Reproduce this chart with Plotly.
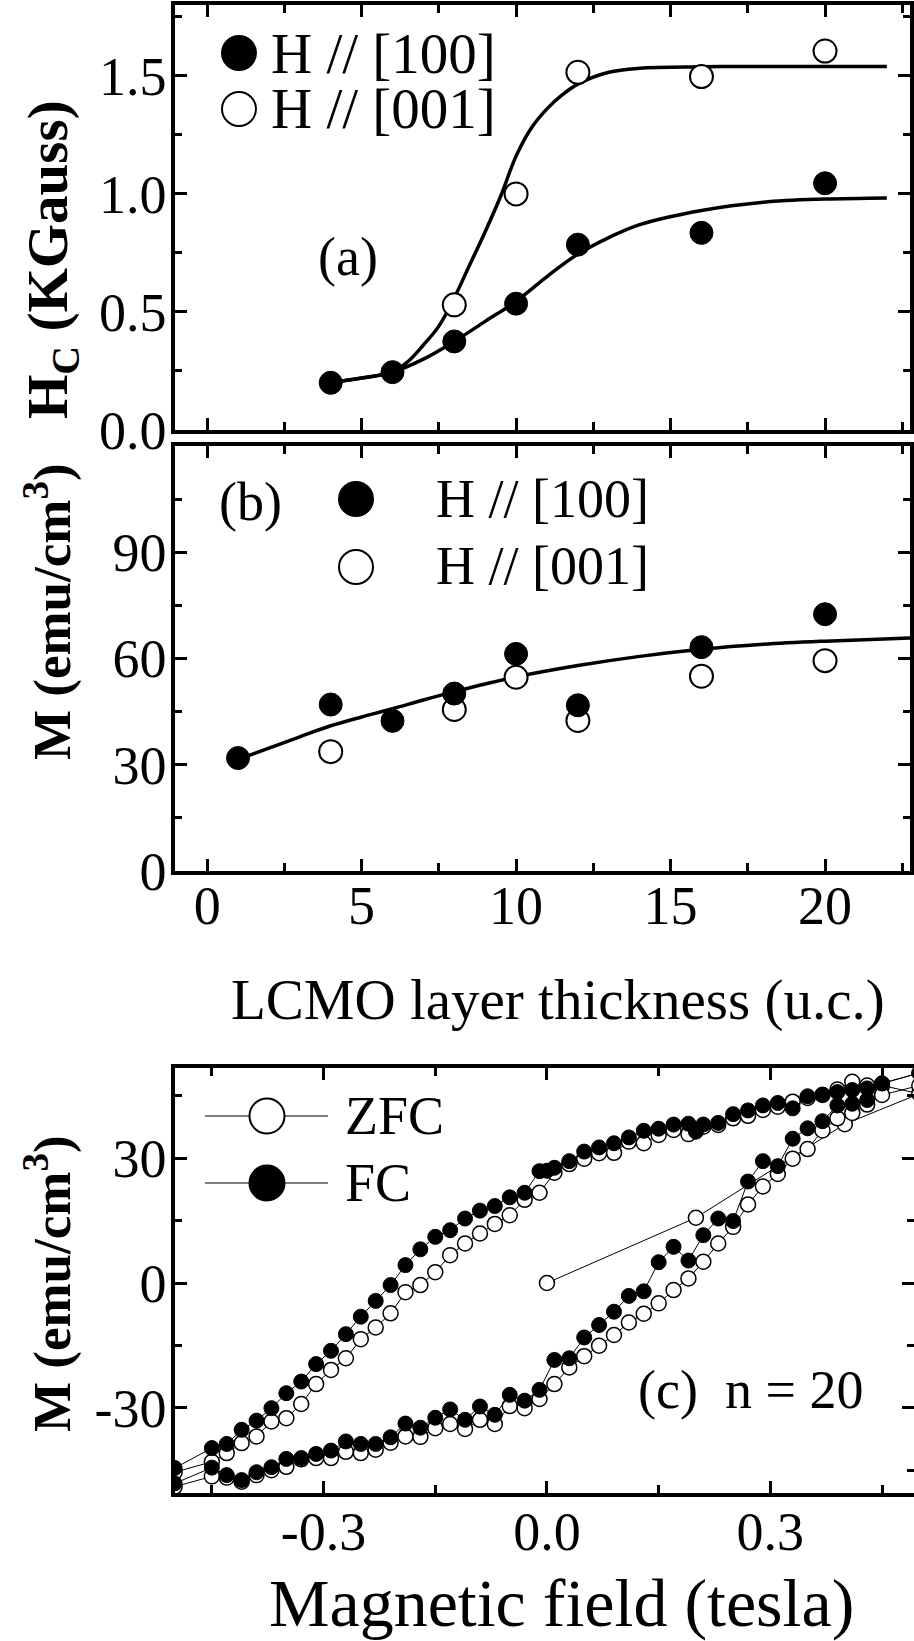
import plotly.graph_objects as go

# ---------------- Panel (a): coercive field vs LCMO thickness ----------------
a_thick_100 = [4, 6, 8, 10, 12, 16, 20]
a_hc_100 = [0.20, 0.245, 0.375, 0.535, 0.785, 0.835, 1.045]
a_thick_001 = [8, 10, 12, 16, 20]
a_hc_001 = [0.53, 1.0, 1.515, 1.497, 1.605]

a_fit100_x = [4, 5, 6, 7, 8, 9, 10, 11, 12, 13, 14, 16, 18, 20, 22]
a_fit100_y = [0.20, 0.22, 0.245, 0.30, 0.375, 0.46, 0.545, 0.65, 0.745, 0.815, 0.87, 0.93, 0.965, 0.978, 0.983]
a_fit001_x = [4, 5, 6, 6.5, 7, 7.5, 8, 8.5, 9, 9.5, 10, 10.5, 11, 11.5, 12, 13, 14, 16, 18, 22]
a_fit001_y = [0.20, 0.22, 0.245, 0.29, 0.36, 0.44, 0.56, 0.70, 0.84, 0.99, 1.16, 1.28, 1.36, 1.42, 1.465, 1.515, 1.532, 1.538, 1.54, 1.54]

# ---------------- Panel (b): magnetization vs LCMO thickness ----------------
b_thick_100 = [1, 4, 6, 8, 10, 12, 16, 20]
b_m_100 = [31.9, 47.0, 42.4, 50.1, 61.3, 46.8, 63.2, 72.5]
b_thick_001 = [4, 8, 10, 12, 16, 20]
b_m_001 = [33.7, 45.6, 54.7, 42.5, 55.0, 59.4]

b_fit_x = [0.7, 1, 2, 3, 4, 5, 6, 7, 8, 9, 10, 12, 14, 16, 18, 20, 23]
b_fit_y = [30.5, 31.5, 34.7, 37.9, 41.0, 43.5, 45.8, 48.3, 50.6, 52.8, 54.8, 58.0, 60.6, 62.6, 64.0, 64.9, 65.9]

# ---------------- Panel (c): hysteresis loops, n = 20 ----------------
fc_field_desc = [0.50, 0.45, 0.43, 0.41, 0.39, 0.37, 0.35, 0.33, 0.31, 0.29, 0.27, 0.25, 0.23, 0.21, 0.20,
                 0.19, 0.17, 0.15, 0.13, 0.11, 0.09, 0.07, 0.05, 0.03, 0.01, 0.00, -0.01, -0.03, -0.05,
                 -0.07, -0.09, -0.11, -0.13, -0.15, -0.17, -0.19, -0.21, -0.23, -0.25, -0.27, -0.29,
                 -0.31, -0.33, -0.35, -0.37, -0.39, -0.41, -0.43, -0.45, -0.50]
fc_m_desc = [50.5, 48.0, 46.8, 46.4, 45.9, 45.3, 44.9, 42.0, 43.3, 42.7, 41.5, 40.6, 38.5, 38.1, 36.4,
             38.3, 38.1, 37.1, 36.6, 35.0, 33.6, 32.6, 31.6, 29.3, 27.7, 27.0, 26.9, 21.7, 20.6,
             18.5, 17.4, 15.5, 12.7, 11.1, 8.1, 4.3, -0.5, -4.3, -8.1, -12.3, -16.3,
             -19.5, -23.7, -26.5, -30.1, -33.1, -35.3, -38.7, -39.7, -44.5]
fc_field_asc = [-0.50, -0.45, -0.43, -0.41, -0.39, -0.37, -0.35, -0.33, -0.31, -0.29, -0.27, -0.25, -0.23,
                -0.21, -0.19, -0.17, -0.15, -0.13, -0.11, -0.09, -0.07, -0.05, -0.03, -0.01, 0.01, 0.03,
                0.05, 0.07, 0.09, 0.11, 0.13, 0.15, 0.17, 0.19, 0.21, 0.23, 0.25, 0.27, 0.29, 0.31, 0.33,
                0.35, 0.37, 0.39, 0.41, 0.43, 0.45, 0.50]
fc_m_asc = [-48.2, -44.4, -46.2, -47.4, -45.5, -44.3, -42.3, -42.1, -41.1, -40.3, -38.1, -38.7, -38.7,
            -37.1, -33.8, -34.8, -32.4, -30.4, -32.9, -29.7, -31.7, -26.9, -28.3, -25.7, -18.5, -18.1,
            -13.1, -10.1, -6.9, -3.1, -2.0, 5.0, 8.7, 5.4, 11.5, 15.5, 14.9, 24.4, 29.3, 28.1, 34.7,
            37.2, 38.9, 42.7, 43.1, 44.0, 48.0, 50.5]

zfc_field_virgin = [0.0, 0.2, 0.4, 0.5]
zfc_m_virgin = [0.0, 15.7, 38.2, 45.5]
zfc_field_desc = [0.45, 0.43, 0.41, 0.39, 0.37, 0.35, 0.33, 0.31, 0.29, 0.27, 0.25, 0.23, 0.21, 0.19, 0.17,
                  0.15, 0.13, 0.11, 0.09, 0.07, 0.05, 0.03, 0.01, -0.01, -0.03, -0.05, -0.07, -0.09, -0.11,
                  -0.13, -0.15, -0.17, -0.19, -0.21, -0.23, -0.25, -0.27, -0.29, -0.31, -0.33, -0.35,
                  -0.37, -0.39, -0.41, -0.43, -0.45, -0.50]
zfc_m_desc = [47.5, 47.5, 48.4, 46.5, 45.2, 44.5, 43.6, 42.4, 41.6, 40.2, 39.6, 38.0, 37.6, 35.8, 36.8,
              35.6, 33.6, 34.0, 31.3, 31.2, 29.9, 28.6, 26.5, 21.7, 20.0, 16.3, 14.2, 11.9, 9.5,
              6.7, 2.6, -0.5, -2.2, -7.3, -10.7, -13.5, -18.1, -20.9, -24.3, -29.1, -32.5,
              -33.3, -36.9, -38.5, -40.9, -43.0, -45.5]
zfc_field_asc = [-0.50, -0.45, -0.43, -0.41, -0.39, -0.37, -0.35, -0.33, -0.31, -0.29, -0.27, -0.25, -0.23,
                 -0.21, -0.19, -0.17, -0.15, -0.13, -0.11, -0.09, -0.07, -0.05, -0.03, -0.01, 0.01, 0.03,
                 0.05, 0.07, 0.09, 0.11, 0.13, 0.15, 0.17, 0.19, 0.21, 0.23, 0.25, 0.27, 0.29, 0.31, 0.33,
                 0.35, 0.37, 0.39, 0.41, 0.43, 0.45, 0.50]
zfc_m_asc = [-49.0, -46.5, -46.8, -47.8, -46.2, -45.0, -44.2, -42.4, -42.1, -42.1, -40.6, -40.9, -40.1,
             -38.4, -36.9, -37.0, -34.9, -33.9, -35.1, -32.9, -33.9, -29.6, -30.1, -27.9, -24.3, -20.3,
             -17.6, -15.1, -12.5, -9.5, -7.4, -4.9, -1.7, 1.1, 5.1, 9.5, 13.5, 18.9, 23.2, 26.2, 29.9,
             32.2, 36.7, 39.6, 40.9, 42.9, 45.2, 47.5]

# ---------------- Tick labels ----------------
ab_x_tickvals = [0, 5, 10, 15, 20]
ab_x_ticktext = ["0", "5", "10", "15", "20"]
ab_x_minor = [2.5, 7.5, 12.5, 17.5, 22.5]
a_y_tickvals = [0.0, 0.5, 1.0, 1.5]
a_y_ticktext = ["0.0", "0.5", "1.0", "1.5"]
a_y_minor = [0.25, 0.75, 1.25, 1.75]
b_y_tickvals = [0, 30, 60, 90]
b_y_ticktext = ["0", "30", "60", "90"]
b_y_minor = [15, 45, 75, 105]
c_x_tickvals = [-0.3, 0.0, 0.3]
c_x_ticktext = ["-0.3", "0.0", "0.3"]
c_x_minor = [-0.45, -0.15, 0.15, 0.45]
c_y_tickvals = [-30, 0, 30]
c_y_ticktext = ["-30", "0", "30"]
c_y_minor = [-45, -15, 15, 45]

# ---------------- Figure geometry ----------------
W, H = 914, 1641
ML = 175
PW = W - ML
FONT = "Liberation Serif"


def px_x(px):
    return (px - ML) / PW


def px_y(py):
    return 1 - py / H


fig = go.Figure()

# Panel (a)
fig.add_trace(go.Scatter(x=a_fit001_x, y=a_fit001_y, mode="lines", line=dict(color="black", width=3.5, shape="spline"),
                         xaxis="x", yaxis="y"))
fig.add_trace(go.Scatter(x=a_fit100_x, y=a_fit100_y, mode="lines", line=dict(color="black", width=3.5, shape="spline"),
                         xaxis="x", yaxis="y"))
fig.add_trace(go.Scatter(x=a_thick_001, y=a_hc_001, mode="markers",
                         marker=dict(size=23, color="white", line=dict(color="black", width=2)), xaxis="x", yaxis="y"))
fig.add_trace(go.Scatter(x=a_thick_100, y=a_hc_100, mode="markers",
                         marker=dict(size=23, color="black", line=dict(color="black", width=1)), xaxis="x", yaxis="y"))

# Panel (b)
fig.add_trace(go.Scatter(x=b_fit_x, y=b_fit_y, mode="lines", line=dict(color="black", width=3.5, shape="spline"),
                         xaxis="x2", yaxis="y2"))
fig.add_trace(go.Scatter(x=b_thick_001, y=b_m_001, mode="markers",
                         marker=dict(size=23, color="white", line=dict(color="black", width=2)), xaxis="x2", yaxis="y2"))
fig.add_trace(go.Scatter(x=b_thick_100, y=b_m_100, mode="markers",
                         marker=dict(size=23, color="black", line=dict(color="black", width=1)), xaxis="x2", yaxis="y2"))

# Panel (c)
zfc_x = zfc_field_virgin + zfc_field_desc + zfc_field_asc
zfc_y = zfc_m_virgin + zfc_m_desc + zfc_m_asc
fc_x = fc_field_desc + fc_field_asc
fc_y = fc_m_desc + fc_m_asc
fig.add_trace(go.Scatter(x=zfc_x, y=zfc_y, mode="lines+markers", line=dict(color="black", width=1),
                         marker=dict(size=15, color="white", line=dict(color="black", width=1.5)),
                         xaxis="x3", yaxis="y3"))
fig.add_trace(go.Scatter(x=fc_x, y=fc_y, mode="lines+markers", line=dict(color="black", width=1),
                         marker=dict(size=15, color="black", line=dict(color="black", width=1)),
                         xaxis="x3", yaxis="y3"))

tickfont = dict(family=FONT, size=54, color="black")


def xax(domain, rng, tv, tt, minor, anchor, show_labels, standoff):
    return dict(domain=domain, range=rng, anchor=anchor, showline=True, linewidth=3.5, linecolor="black",
                mirror="ticks", ticks="inside", ticklen=12, tickwidth=3, tickcolor="black",
                tickvals=tv, ticktext=tt, showticklabels=show_labels, tickfont=tickfont,
                ticklabelstandoff=standoff, automargin=False,
                minor=dict(tickvals=minor, ticks="inside", ticklen=8, tickwidth=2.5, tickcolor="black", showgrid=False),
                showgrid=False, zeroline=False)


def yax(domain, rng, tv, tt, minor, anchor):
    return dict(domain=domain, range=rng, anchor=anchor, showline=True, linewidth=3.5, linecolor="black",
                mirror="ticks", ticks="inside", ticklen=12, tickwidth=3, tickcolor="black",
                tickvals=tv, ticktext=tt, tickfont=tickfont, automargin=False, ticklabelstandoff=-6,
                minor=dict(tickvals=minor, ticks="inside", ticklen=7, tickwidth=2.5, tickcolor="black", showgrid=False),
                showgrid=False, zeroline=False)


dom_ab = [0, (910 - ML) / PW]
fig.update_layout(
    xaxis=xax(dom_ab, [-1.04, 22.75], ab_x_tickvals, ab_x_ticktext, ab_x_minor, "y", False, 0),
    yaxis=yax([px_y(430), px_y(5)], [0, 1.8], a_y_tickvals, a_y_ticktext, a_y_minor, "x"),
    xaxis2=xax(dom_ab, [-1.04, 22.75], ab_x_tickvals, ab_x_ticktext, ab_x_minor, "y2", True, -16),
    yaxis2=yax([px_y(871), px_y(446)], [0, 120], b_y_tickvals, b_y_ticktext, b_y_minor, "x2"),
    xaxis3=xax([0, 1], [-0.4995, 0.4929], c_x_tickvals, c_x_ticktext, c_x_minor, "y3", True, -12),
    yaxis3=yax([px_y(1493), px_y(1068)], [-50.5, 51.7], c_y_tickvals, c_y_ticktext, c_y_minor, "x3"),
)

# ---------------- Text annotations ----------------
ann = []


def text(px, py, s, size, xanchor="center", angle=0):
    ann.append(dict(x=px_x(px), y=px_y(py), xref="paper", yref="paper", text=s, showarrow=False,
                    xanchor=xanchor, yanchor="middle", textangle=angle,
                    font=dict(family=FONT, size=size, color="black")))


text(52, 260, "<b>H<sub>C</sub> (KGauss)</b>", 57, angle=-90)
text(48, 612, "<b>M (emu/cm<sup>3</sup>)</b>", 53, angle=-90)
text(48, 1284, "<b>M (emu/cm<sup>3</sup>)</b>", 53, angle=-90)
text(558, 1000, "LCMO layer thickness (u.c.)", 57)
text(561, 1603, "Magnetic field (tesla)", 68)
text(348, 257, "(a)", 54)
text(269, 53, "H // [100]", 57, xanchor="left")
text(269, 109, "H // [001]", 57, xanchor="left")
text(250, 502, "(b)", 54)
text(434, 499, "H // [100]", 54, xanchor="left")
text(434, 566, "H // [001]", 54, xanchor="left")
text(343, 1116, "ZFC", 54, xanchor="left")
text(343, 1183, "FC", 54, xanchor="left")
text(636, 1390, "(c)\u00a0\u00a0n = 20", 54, xanchor="left")

# ---------------- Legend symbols (drawn as shapes) ----------------
shapes = []


def circle(cx, cy, d, filled):
    r = d / 2
    shapes.append(dict(type="circle", xref="paper", yref="paper",
                       x0=px_x(cx - r), x1=px_x(cx + r), y0=px_y(cy + r), y1=px_y(cy - r),
                       fillcolor="black" if filled else "white", line=dict(color="black", width=2)))


def hline(x0, x1, y):
    shapes.append(dict(type="line", xref="paper", yref="paper", x0=px_x(x0), x1=px_x(x1), y0=px_y(y), y1=px_y(y),
                       line=dict(color="#555555", width=1.5)))


circle(239, 53, 34, True)
circle(239, 109, 34, False)
circle(356, 499, 34, True)
circle(356, 567, 34, False)
hline(205, 328, 1116)
hline(205, 328, 1183)
circle(267, 1116, 35, False)
circle(267, 1183, 35, True)

fig.update_layout(annotations=ann, shapes=shapes, width=W, height=H,
                  margin=dict(l=ML, r=0, t=0, b=0, autoexpand=False), paper_bgcolor="white", plot_bgcolor="white",
                  showlegend=False)

fig.write_html("out.html", config={"displayModeBar": False},
               post_script="document.body.style.margin='0px';document.body.style.padding='0px';"
                           "document.documentElement.style.overflow='hidden';")
